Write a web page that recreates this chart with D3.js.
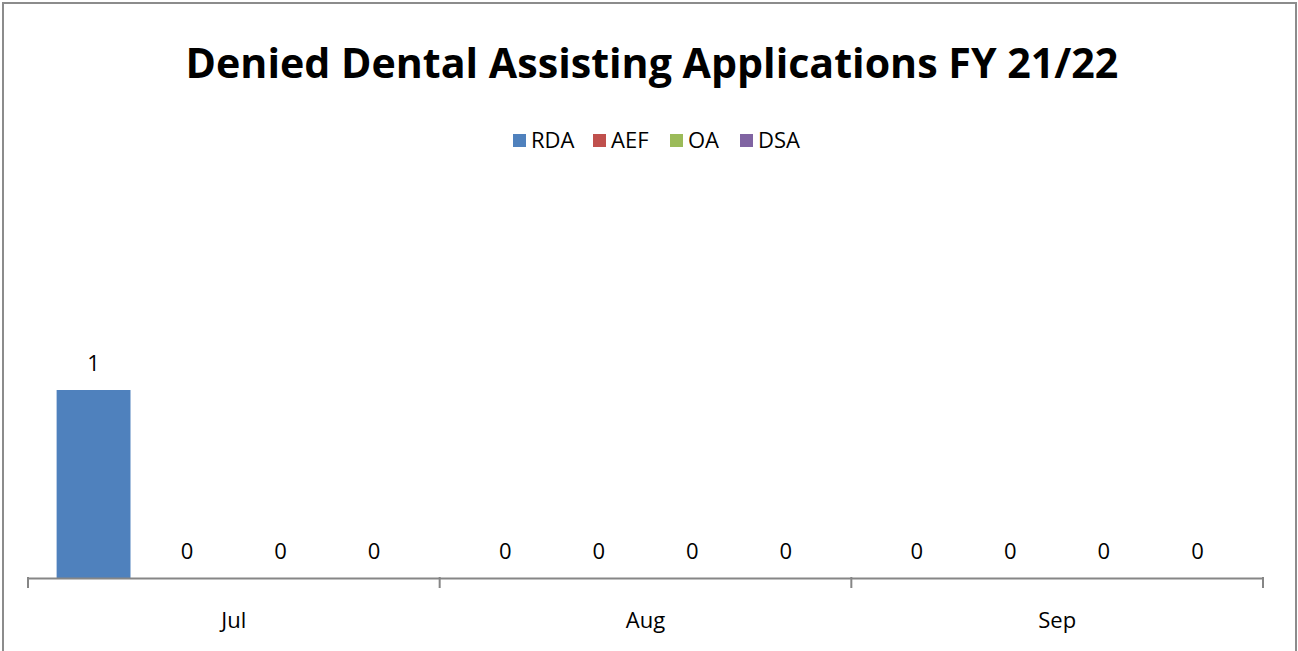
<!DOCTYPE html>
<html>
<head>
    <meta charset="utf-8">
    <style>
        body { margin: 0; background: #fff; }
        svg { display: block; font-family: 'Open Sans', 'Noto Sans', sans-serif; }
    </style>
</head>
<body>
    <svg width="1298" height="651"></svg>

<script src="https://d3js.org/d3.v7.min.js"></script>
<script>
    // chart data
    const months = ["Jul", "Aug", "Sep"]
    const series = ["RDA", "AEF", "OA", "DSA"]
    const colors = ["#4F81BD", "#C0504D", "#9BBB59", "#8064A2"]
    const rda = [1, 0, 0]
    const aef = [0, 0, 0]
    const oa = [0, 0, 0]
    const dsa = [0, 0, 0]
    const title = "Denied Dental Assisting Applications FY 21/22"

    const values = { RDA: rda, AEF: aef, OA: oa, DSA: dsa }
    const rows = months.map((m, i) => ({
        month: m,
        vals: series.map(s => ({ key: s, value: values[s][i] }))
    }))

    let svg = d3.select("svg")

    // outer frame
    svg.append("rect")
        .attr("x", 3).attr("y", 3)
        .attr("width", 1293).attr("height", 660)
        .style("fill", "none")
        .style("stroke", "#8c8c8c")
        .style("stroke-width", 2)

    // title, sized to the width it has in the picture
    let t = svg.append("text")
        .attr("x", 652).attr("y", 78)
        .attr("text-anchor", "middle")
        .style("font-weight", "bold")
        .style("font-size", "40px")
        .text(title)
    let w = t.node().getComputedTextLength()
    t.style("font-size", (40 * 933 / w) + "px")

    // scales
    let x0 = d3.scaleBand()
        .domain(months)
        .range([28, 1263])
    let x1 = d3.scaleBand()
        .domain(series)
        .range([0, x0.bandwidth()])
        .paddingInner(0.21)
        .paddingOuter(0.306)
    let y = d3.scaleLinear()
        .domain([0, 1])
        .range([578, 390])
    let color = d3.scaleOrdinal().domain(series).range(colors)

    // bars
    let groups = svg.append("g")
        .selectAll("g")
        .data(rows)
        .join("g")
        .attr("transform", d => `translate(${x0(d.month)},0)`)

    groups.selectAll("rect")
        .data(d => d.vals)
        .join("rect")
        .attr("x", d => x1(d.key))
        .attr("width", x1.bandwidth())
        .attr("y", d => y(d.value))
        .attr("height", d => y(0) - y(d.value))
        .style("fill", d => color(d.key))

    groups.selectAll("text")
        .data(d => d.vals)
        .join("text")
        .attr("x", d => x1(d.key) + x1.bandwidth() / 2)
        .attr("y", d => y(d.value) - 19)
        .attr("text-anchor", "middle")
        .style("font-size", "22px")
        .style("fill", "#000")
        .text(d => d.value)

    // x axis
    let axis = svg.append("g")
        .attr("transform", `translate(0,${y(0)})`)
        .call(d3.axisBottom(x0).tickSize(0).tickPadding(34).tickSizeOuter(0))
    axis.select(".domain").style("stroke", "#868686").style("stroke-width", 2)
    axis.selectAll("text")
        .style("font-size", "22px")
        .style("font-family", "'Open Sans', sans-serif")
        .style("fill", "#000")

    // ticks between categories
    let edges = months.map(m => x0(m)).concat([x0(months[months.length - 1]) + x0.bandwidth()])
    axis.selectAll(".sep")
        .data(edges)
        .join("line")
        .attr("class", "sep")
        .attr("x1", d => d).attr("x2", d => d)
        .attr("y1", -1).attr("y2", 10)
        .style("stroke", "#868686")
        .style("stroke-width", 2)

    // legend
    let legendX = [513, 593, 670, 740]
    let legend = svg.append("g")
        .selectAll("g")
        .data(series)
        .join("g")
        .attr("transform", (d, i) => `translate(${legendX[i]},134)`)
    legend.append("rect")
        .attr("width", 13).attr("height", 13)
        .style("fill", d => color(d))
    legend.append("text")
        .attr("x", 18).attr("y", 14)
        .style("font-size", "22px")
        .style("fill", "#000")
        .text(d => d)
</script>
</body>
</html>
